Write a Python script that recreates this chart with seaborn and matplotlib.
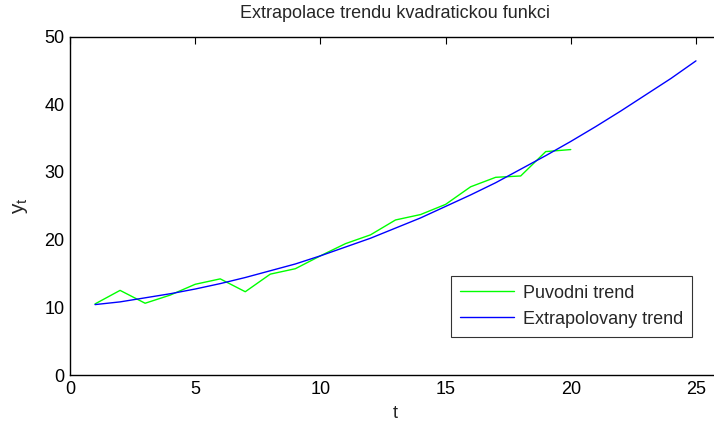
import numpy as np
import pandas as pd
import seaborn as sns
import matplotlib
matplotlib.use("Agg")
import matplotlib.pyplot as plt

# puvodni data
t_orig = list(range(1, 21))
y_orig = [10.5, 12.5, 10.6, 11.8, 13.4, 14.2, 12.3, 14.9, 15.7, 17.6,
          19.4, 20.7, 22.9, 23.7, 25.2, 27.8, 29.2, 29.4, 33.0, 33.3]

# extrapolovany kvadraticky trend
t_extr = list(range(1, 26))
y_extr = [10.4, 10.8, 11.4, 12.0, 12.7, 13.5, 14.4, 15.4, 16.4, 17.6,
          18.9, 20.2, 21.7, 23.2, 24.9, 26.6, 28.4, 30.4, 32.4, 34.5,
          36.7, 39.0, 41.4, 43.8, 46.4]

df_orig = pd.DataFrame({'t': t_orig, 'y': y_orig})
df_extr = pd.DataFrame({'t': t_extr, 'y': y_extr})

sns.set_style('white')
plt.rcParams['font.family'] = ['Liberation Sans', 'DejaVu Sans']

fig = plt.figure(figsize=(7.14, 4.22), dpi=100)
ax = fig.add_axes([70 / 714, 47 / 422, 651 / 714, 338.5 / 422])

sns.lineplot(x='t', y='y', data=df_orig, ax=ax, color='#00ff00', linewidth=1.0,
             label='Puvodni trend')
sns.lineplot(x='t', y='y', data=df_extr, ax=ax, color='#0000ff', linewidth=1.0,
             label='Extrapolovany trend')

ax.set_xlim(0, 26)
ax.set_ylim(0, 50)
ax.set_xticks([0, 5, 10, 15, 20, 25])
ax.set_yticks([0, 10, 20, 30, 40, 50])
ax.tick_params(direction='in', length=5, width=0.8, top=True, right=False,
               labelsize=13, colors='black', pad=4)
for s in ax.spines.values():
    s.set_color('black')
    s.set_linewidth(1.0)
ax.spines['right'].set_visible(False)

ax.set_title('Extrapolace trendu kvadratickou funkci', fontsize=13, pad=13)
ax.set_xlabel('t', fontsize=13, labelpad=5)
ax.set_ylabel('$\\mathregular{y_t}$', fontsize=15, labelpad=10)

leg = ax.legend(loc='lower right', bbox_to_anchor=(622 / 651, 0.113),
                fontsize=13, frameon=True, fancybox=False, handlelength=3.0,
                borderpad=0.5, labelspacing=0.5, handletextpad=0.5,
                borderaxespad=0)
leg.get_frame().set_edgecolor('black')
leg.get_frame().set_linewidth(0.8)

fig.savefig('out.png', dpi=100)
